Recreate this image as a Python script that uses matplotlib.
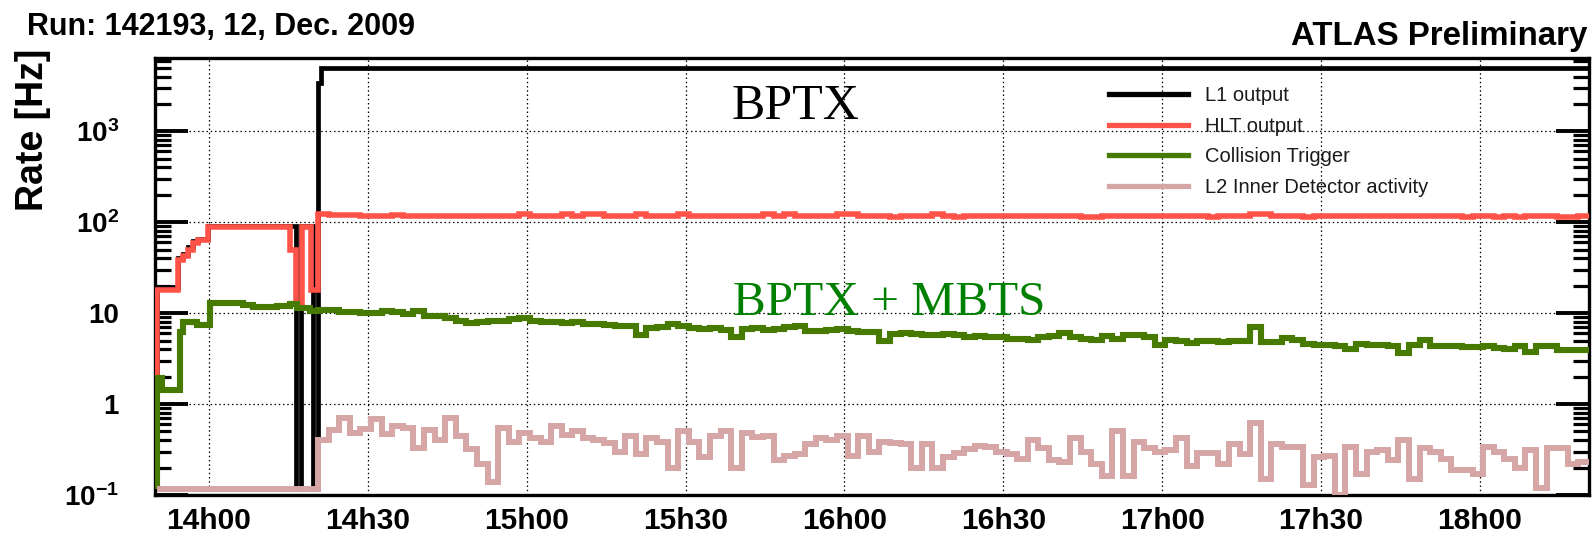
import numpy as np
import matplotlib
matplotlib.use("Agg")
import matplotlib.pyplot as plt
from matplotlib.ticker import LogLocator, NullFormatter
from matplotlib.lines import Line2D

plt.rcParams['font.family'] = ['Liberation Sans', 'DejaVu Sans']
plt.rcParams['mathtext.fontset'] = 'custom'
plt.rcParams['mathtext.rm'] = 'Liberation Sans:bold'
plt.rcParams['mathtext.it'] = 'Liberation Sans:bold'
plt.rcParams['mathtext.bf'] = 'Liberation Sans:bold'

# ---------------------------------------------------------------------------
# Data: times are minutes since midnight, rates in Hz (0 = no rate)
# ---------------------------------------------------------------------------
t_range = (829.8, 1100.6)

# regular 2-minute bins after stable beams (14h20.6 -> 18h20.6)
reg_start, reg_width, reg_count = 860.6, 2.0, 120

# L1 output
l1_edges = [830.2, 834.1, 835.1, 836.0, 837.0, 837.9, 839.8, 856.4, 857.4,
            859.7, 860.6, 861.2, 1100.6]
l1_rate = [19.5, 40, 45, 53, 62, 66, 92, 0, 90, 0, 3400, 5000]

# HLT output: early part, then regular bins
hlt_early_edges = [830.2, 834.1, 835.1, 836.0, 837.0, 837.9, 839.8, 855.3,
                   856.4, 857.6, 859.3, 860.6]
hlt_early = [18, 38, 42, 49, 59, 63, 88, 49, 13, 88, 18]
hlt_rate = [122, 120, 119, 119, 118, 118, 118, 119, 118, 118,
            118, 118, 118, 118, 118, 118, 118, 118, 118, 123,
            118, 118, 118, 123, 118, 122, 122, 118, 118, 118,
            122, 118, 118, 118, 123, 118, 118, 118, 118, 118,
            118, 118, 122, 118, 122, 118, 118, 118, 118, 123,
            122, 118, 118, 118, 114, 118, 118, 118, 122, 118,
            114, 118, 118, 118, 118, 118, 117, 117, 117, 117,
            117, 117, 115, 115, 116, 117, 117, 117, 117, 117,
            117, 117, 117, 117, 114, 117, 117, 117, 122, 122,
            117, 117, 117, 114, 117, 117, 117, 117, 117, 117,
            117, 117, 117, 117, 117, 117, 117, 117, 115, 117,
            117, 114, 117, 115, 117, 117, 117, 113, 113, 118]

# Collision trigger (BPTX + MBTS)
coll_early_edges = [830.2, 831.1, 834.5, 835.1, 837.7, 840.2, 844.0, 846.4,
                    848.3, 852.8, 855.3, 856.6, 859.1, 860.6]
coll_early = [1.93, 1.43, 6.2, 7.9, 7.4, 12.9, 13.0, 12.2, 11.6, 12.0, 12.6,
              11.3, 10.6]
coll_rate = [10.9, 10.7, 10.4, 10.2, 10.0, 10.0, 10.5, 10.2, 9.8, 10.5,
             9.4, 9.2, 8.9, 8.1, 7.7, 7.9, 8.2, 8.3, 8.6, 8.8,
             8.1, 8.0, 8.0, 7.8, 8.0, 7.6, 7.6, 7.4, 7.3, 7.3,
             5.8, 6.9, 7.1, 7.6, 7.3, 6.8, 6.7, 6.8, 6.5, 5.5,
             6.7, 6.8, 6.6, 6.7, 7.0, 7.3, 6.4, 6.4, 6.6, 6.7,
             6.4, 6.2, 6.2, 4.9, 5.9, 6.0, 5.9, 5.7, 5.8, 5.9,
             5.8, 5.4, 5.6, 5.4, 5.4, 5.2, 5.2, 5.1, 5.4, 5.6,
             6.0, 5.4, 5.2, 5.1, 5.6, 5.2, 5.8, 5.7, 5.4, 4.5,
             5.1, 5.0, 4.7, 4.9, 4.9, 4.8, 5.0, 5.0, 7.0, 4.8,
             4.8, 5.3, 5.1, 4.6, 4.5, 4.5, 4.4, 4.0, 4.6, 4.5,
             4.5, 4.4, 3.6, 4.5, 5.1, 4.4, 4.3, 4.3, 4.2, 4.2,
             4.3, 4.1, 4.0, 4.3, 3.7, 4.3, 4.4, 3.9, 3.9, 3.9]

# L2 inner detector activity
l2id_early_edges = [830.2, 860.6]
l2id_early = [0]
l2id_rate = [0.40, 0.52, 0.70, 0.48, 0.53, 0.68, 0.47, 0.57, 0.55, 0.33,
             0.52, 0.40, 0.70, 0.45, 0.32, 0.22, 0.14, 0.55, 0.38, 0.48,
             0.42, 0.38, 0.58, 0.46, 0.50, 0.42, 0.40, 0.37, 0.30, 0.45,
             0.28, 0.42, 0.38, 0.20, 0.50, 0.38, 0.26, 0.45, 0.50, 0.20,
             0.48, 0.43, 0.45, 0.24, 0.27, 0.28, 0.36, 0.42, 0.40, 0.44,
             0.27, 0.44, 0.30, 0.38, 0.37, 0.36, 0.20, 0.36, 0.20, 0.26,
             0.29, 0.32, 0.35, 0.34, 0.30, 0.28, 0.25, 0.40, 0.33, 0.24,
             0.23, 0.42, 0.30, 0.22, 0.16, 0.50, 0.16, 0.38, 0.33, 0.30,
             0.31, 0.42, 0.21, 0.29, 0.29, 0.22, 0.36, 0.28, 0.62, 0.15,
             0.36, 0.34, 0.34, 0.13, 0.26, 0.27, 0.10, 0.34, 0.17, 0.30,
             0.31, 0.24, 0.40, 0.15, 0.33, 0.30, 0.25, 0.19, 0.19, 0.17,
             0.34, 0.30, 0.25, 0.20, 0.31, 0.12, 0.33, 0.33, 0.22, 0.23]

x_ticks = [840, 870, 900, 930, 960, 990, 1020, 1050, 1080]
x_labels = ["14h00", "14h30", "15h00", "15h30", "16h00", "16h30", "17h00",
            "17h30", "18h00"]
y_ticks = [0.1, 1, 10, 100, 1000]
y_labels = [r"$10^{-1}$", "1", "10", r"$10^{2}$", r"$10^{3}$"]
y_range = (0.1, 6400)

series = [
    ("L1 output", "#000000", 3.4),
    ("HLT output", "#ff5248", 4.0),
    ("Collision Trigger", "#467a00", 4.4),
    ("L2 Inner Detector activity", "#d6a6a6", 4.3),
]

# ---------------------------------------------------------------------------
reg_edges = reg_start + reg_width * np.arange(reg_count + 1)
floor = 0.115  # where empty bins are drawn on the log axis


def join(early_edges, early_vals, vals):
    edges = np.concatenate([early_edges, reg_edges[1:]])
    return edges, np.concatenate([early_vals, vals])


def step_path(edges, values):
    edges = np.asarray(edges, float)
    v = np.asarray(values, float)
    v = np.where(v > 0, v, floor)
    xs = np.repeat(edges, 2)[1:-1]
    ys = np.repeat(v, 2)
    return np.concatenate([[edges[0]], xs]), np.concatenate([[floor], ys])


data = [
    (np.asarray(l1_edges, float), np.asarray(l1_rate, float)),
    join(hlt_early_edges, hlt_early, hlt_rate),
    join(coll_early_edges, coll_early, coll_rate),
    join(l2id_early_edges, l2id_early, l2id_rate),
]

W, H = 1594, 537
fig = plt.figure(figsize=(W / 100, H / 100), dpi=100)
ax = fig.add_axes([155 / W, 1 - 495 / H, (1589 - 155) / W, (495 - 58) / H])
ax.set_yscale("log")

for (name, color, lw), (edges, vals) in zip(series, data):
    xs, ys = step_path(edges, vals)
    ax.plot(xs, ys, color=color, lw=lw, solid_joinstyle="miter",
            solid_capstyle="butt", zorder=3)

ax.set_xlim(*t_range)
ax.set_ylim(*y_range)

ax.set_xticks(x_ticks)
ax.set_xticklabels(x_labels, fontsize=21.5, fontweight="bold")
ax.set_yticks(y_ticks)
ax.set_yticklabels(y_labels, fontsize=20, fontweight="bold")
ax.yaxis.set_minor_locator(LogLocator(base=10, subs=np.arange(2, 10), numticks=30))
ax.yaxis.set_minor_formatter(NullFormatter())

ax.tick_params(axis="x", which="both", length=0, pad=8.5)
ax.tick_params(axis="y", which="major", direction="in", length=24, width=2.8,
               left=True, right=True, pad=26)
ax.tick_params(axis="y", which="minor", direction="in", length=11.5, width=2.3,
               left=True, right=True)

ax.grid(True, which="major", color="black", lw=0.9, ls=(0, (1.2, 2.2)), zorder=1)
for sp in ax.spines.values():
    sp.set_linewidth(2.4)

fig.text(33 / W, 1 - 130 / H, "Rate [Hz]", rotation=90, ha="center",
         va="center", fontsize=27, fontweight="bold")
fig.text(27 / W, 1 - 35 / H, "Run: 142193, 12, Dec. 2009", ha="left",
         va="baseline", fontsize=22, fontweight="bold")
fig.text(1587 / W, 1 - 45 / H, "ATLAS Preliminary", ha="right",
         va="baseline", fontsize=23.8, fontweight="bold")

fig.text(732 / W, 1 - 119 / H, "BPTX", ha="left", va="baseline",
         fontsize=36, family=["Liberation Serif", "DejaVu Serif"], color="black")
fig.text(733 / W, 1 - 315 / H, "BPTX + MBTS", ha="left", va="baseline",
         fontsize=35.5, family=["Liberation Serif", "DejaVu Serif"],
         color="#008000")

handles = [Line2D([], [], color=c, lw=3.8) for _, c, _ in series]
leg = ax.legend(handles, [s[0] for s in series], loc="upper left",
                bbox_to_anchor=(1109 / W, 1 - 86 / H),
                bbox_transform=fig.transFigure, frameon=False,
                fontsize=14.5, handlelength=3.9, handletextpad=0.85,
                labelspacing=0.58, borderpad=0, borderaxespad=0)
for txt in leg.get_texts():
    txt.set_color("#1a1a1a")

fig.savefig("out.png", dpi=100)
